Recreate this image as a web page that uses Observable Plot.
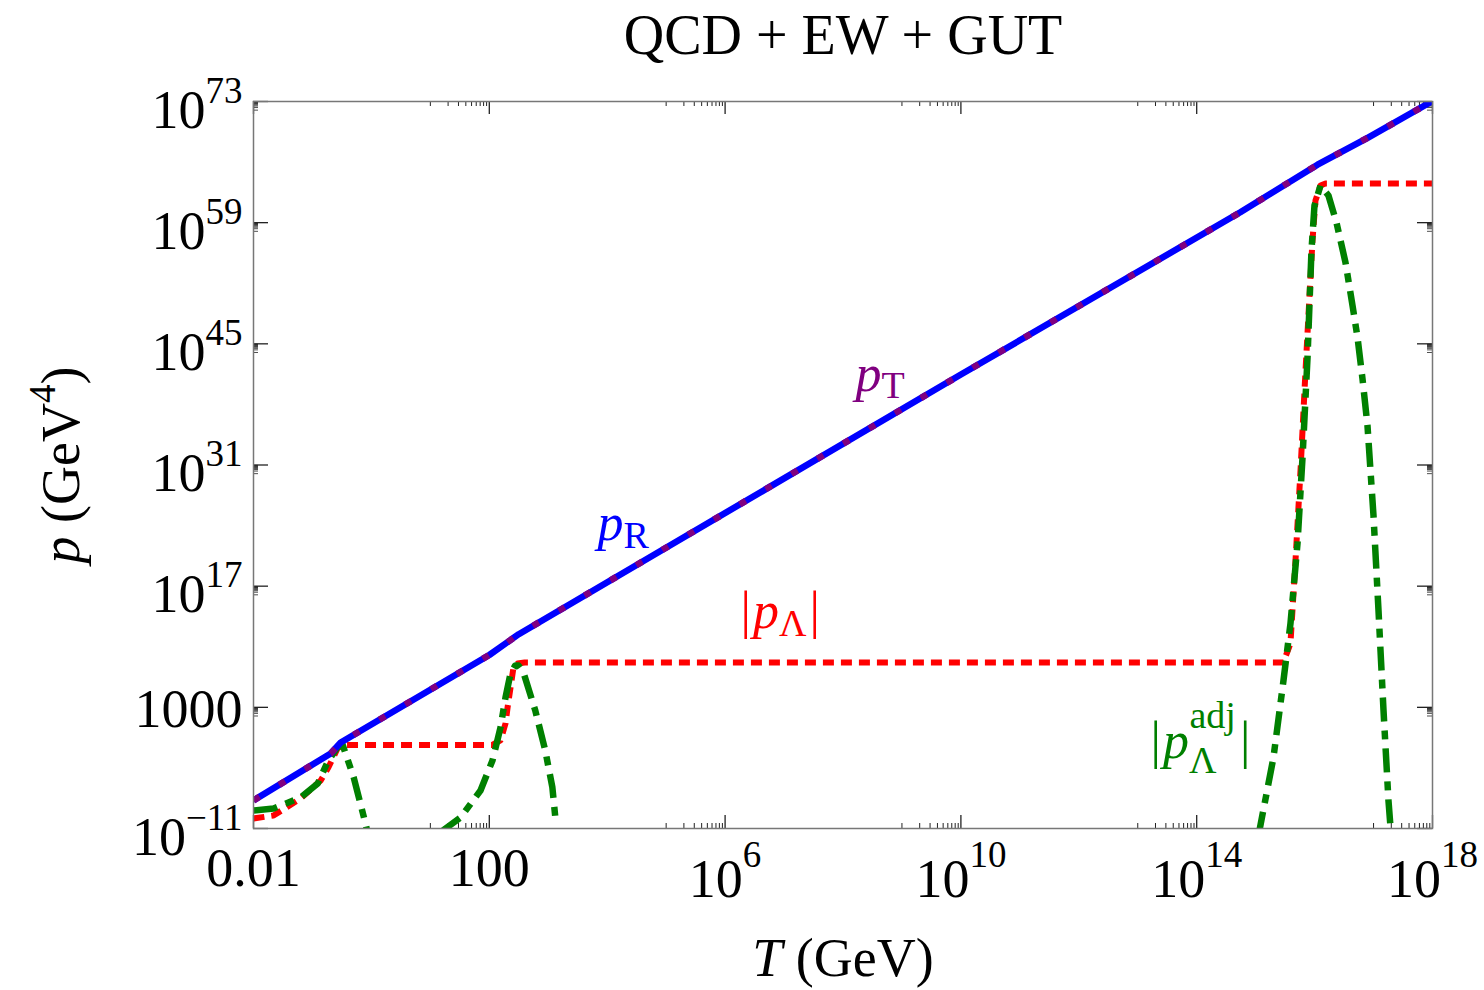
<!DOCTYPE html>
<html><head><meta charset="utf-8">
<script src="https://cdn.jsdelivr.net/npm/d3@7"></script>
<script src="https://cdn.jsdelivr.net/npm/@observablehq/plot@0.6"></script>
<style>
html,body{margin:0;padding:0;background:#fff;}
#chart{width:1484px;height:990px;}
</style></head><body><div id="chart"></div>
<script>
// ---------- data (log10 values) ----------
const xTickValues = [1e-2, 1e2, 1e6, 1e10, 1e14, 1e18];
const xTickLabels = ["0.01", "100", "10^6", "10^10", "10^14", "10^18"];
const yTickValues = [1e-11, 1e3, 1e17, 1e31, 1e45, 1e59, 1e73];
const yTickLabels = ["10^\u221211", "1000", "10^17", "10^31", "10^45", "10^59", "10^73"];

// p_R (and p_T, which coincides with it)
const pR_logT = [-2, -0.69, -0.52, 2.0, 2.5, 10, 14.74, 16.05, 16.9, 18];
const pR_logp = [-7.76, -2.33, -1.06, 9.05, 11.45, 41.45, 60.2, 65.7, 68.8, 73.05];
const pT_logT = [-2, -0.69, -0.52, 2.0, 2.5, 10, 14.74, 16.05, 16.9, 18];
const pT_logp = [-7.76, -2.33, -1.06, 9.05, 11.45, 41.45, 60.2, 65.7, 68.8, 73.05];

// |p_Lambda|
const pL_logT = [-2, -1.66, -1.2, -0.86, -0.73, -0.575, -0.49, 2.05, 2.19, 2.275, 2.31, 2.36, 2.41, 2.48, 2.6,
                 15.47, 15.59, 15.676, 15.761, 15.846, 15.964, 16.015, 16.1, 16.185, 18];
const pL_logp = [-9.84, -9.5, -7.53, -5.45, -3.95, -1.76, -1.35, -1.35, -0.83, 1.13, 2.98, 5.29, 7.6, 8.06, 8.18,
                 8.18, 10.37, 19.97, 30.36, 41.92, 56.94, 61.56, 63.29, 63.52, 63.52];

// |p_Lambda^adj| : three bumps
const adj1_logT = [-2, -1.66, -1.2, -0.91, -0.73, -0.575, -0.49, -0.30, -0.10, -0.066];
const adj1_logp = [-8.92, -8.69, -7.42, -5.80, -3.14, -1.64, -1.29, -5.11, -10.42, -11.46];
const adj2_logT = [1.172, 1.257, 1.511, 1.851, 2.054, 2.19, 2.275, 2.36, 2.44, 2.495, 2.58, 2.78, 2.95, 3.07, 3.12];
const adj2_logp = [-11.46, -11.0, -9.73, -6.61, -3.14, 0.67, 4.14, 6.91, 7.83, 7.83, 7.02, 2.63, -1.99, -6.26, -9.73];
const adj3_logT = [15.048, 15.302, 15.472, 15.591, 15.71, 15.795, 15.88, 15.947, 15.998, 16.1,
                   16.235, 16.371, 16.524, 16.643, 16.728, 16.812, 16.897, 16.999, 17.084, 17.169, 17.253, 17.287];
const adj3_logp = [-11.81, -2.8, 6.1, 12.69, 21.93, 31.87, 43.42, 55.78, 60.98, 63.29,
                   62.14, 59.02, 54.4, 49.43, 45.73, 40.99, 35.56, 25.16, 14.19, 2.64, -7.76, -10.77];

// ---------- build tables ----------
const toRows = (lt, lp, seg) => lt.map((t, i) => ({T: 10 ** t, p: 10 ** lp[i], seg}));
const pR = toRows(pR_logT, pR_logp, "R");
const pT = toRows(pT_logT, pT_logp, "T");
const pL = toRows(pL_logT, pL_logp, "L");
const adj = [...toRows(adj1_logT, adj1_logp, "a"), ...toRows(adj2_logT, adj2_logp, "b"), ...toRows(adj3_logT, adj3_logp, "c")];

const xDomain = [1e-2, 1e18], yDomain = [1e-11, 1e73];
const xMinor = [], yMinor = [];
xTickValues.forEach(v => { for (let m = 1; m <= 9; m++) { const t = v / 10 * m; if (t >= xDomain[0] && t < v) xMinor.push(t); } });
yTickValues.forEach(v => { for (let m = 1; m <= 9; m++) { const t = v / 10 * m; if (t >= yDomain[0] && t < v) yMinor.push(t); } });

const W = 1484, H = 990, mL = 253, mR = 52, mT = 101, mB = 162;
const fw = W - mL - mR, fh = H - mT - mB;
const FONT = "'Liberation Serif', 'Times New Roman', serif";
const tickCol = "#222";

const chart = Plot.plot({
  width: W, height: H,
  marginLeft: mL, marginRight: mR, marginTop: mT, marginBottom: mB,
  x: {type: "log", domain: xDomain, axis: null},
  y: {type: "log", domain: yDomain, axis: null},
  style: {fontFamily: FONT, background: "white", color: "black"},
  marks: [
    // ticks (inward, mirrored)
    Plot.ruleX(xTickValues, {x: d => d, insetTop: fh - 13, stroke: tickCol, strokeWidth: 1.3}),
    Plot.ruleX(xTickValues, {x: d => d, insetBottom: fh - 13, stroke: tickCol, strokeWidth: 1.3}),
    Plot.ruleX(xMinor, {x: d => d, insetTop: fh - 5, stroke: tickCol, strokeWidth: 1}),
    Plot.ruleX(xMinor, {x: d => d, insetBottom: fh - 5, stroke: tickCol, strokeWidth: 1}),
    Plot.ruleY(yTickValues, {y: d => d, insetRight: fw - 15, stroke: tickCol, strokeWidth: 1.3}),
    Plot.ruleY(yTickValues, {y: d => d, insetLeft: fw - 15, stroke: tickCol, strokeWidth: 1.3}),
    Plot.ruleY(yMinor, {y: d => d, insetRight: fw - 5, stroke: tickCol, strokeWidth: 0.8}),
    Plot.ruleY(yMinor, {y: d => d, insetLeft: fw - 5, stroke: tickCol, strokeWidth: 0.8}),
    // curves
    Plot.line(pL, {x: "T", y: "p", stroke: "#ff0000", strokeWidth: 6, strokeDasharray: "11,7", strokeLinecap: "butt", strokeLinejoin: "round", clip: true}),
    Plot.line(adj, {x: "T", y: "p", z: "seg", stroke: "#008000", strokeWidth: 6.5, strokeDasharray: "24,9,9,9", strokeLinecap: "butt", strokeLinejoin: "round", clip: true}),
    Plot.line(pR, {x: "T", y: "p", stroke: "#0000ff", strokeWidth: 6.5, strokeLinecap: "butt", clip: true}),
    Plot.line(pT, {x: "T", y: "p", stroke: "#800080", strokeWidth: 6.5, strokeDasharray: "7,23", strokeLinecap: "butt", clip: true}),
    Plot.frame({stroke: "#777", strokeWidth: 1.5}),
    // tick labels (text groups 0 and 1)
    Plot.text(xTickValues, {x: d => d, frameAnchor: "bottom", dy: 57, lineAnchor: "bottom", textAnchor: "middle", text: (d, i) => xTickLabels[i], fontSize: 54, fill: "black"}),
    Plot.text(yTickValues, {y: d => d, frameAnchor: "left", dx: -11, dy: 20, lineAnchor: "bottom", textAnchor: "end", text: (d, i) => yTickLabels[i], fontSize: 54, fill: "black"}),
    // curve labels (groups 2..5)
    Plot.text([{T: 10 ** 3.835, p: 10 ** 22.28}], {x: "T", y: "p", text: () => "pR", textAnchor: "start", lineAnchor: "bottom", fontSize: 52, fill: "#0000ff"}),
    Plot.text([{T: 10 ** 8.212, p: 10 ** 39.6}], {x: "T", y: "p", text: () => "pT", textAnchor: "start", lineAnchor: "bottom", fontSize: 52, fill: "#800080"}),
    Plot.text([{T: 10 ** 6.261, p: 10 ** 12.22}], {x: "T", y: "p", text: () => "pL", textAnchor: "start", lineAnchor: "bottom", fontSize: 52, fill: "#ff0000"}),
    Plot.text([{T: 10 ** 13.216, p: 10 ** -2.8}], {x: "T", y: "p", text: () => "pLadj", textAnchor: "start", lineAnchor: "bottom", fontSize: 52, fill: "#008000"}),
    // title and axis labels (groups 6..8)
    Plot.text(["QCD + EW + GUT"], {frameAnchor: "top", dy: -48, text: d => d, lineAnchor: "bottom", textAnchor: "middle", fontSize: 56, fill: "black"}),
    Plot.text(["T (GeV)"], {frameAnchor: "bottom", dy: 147, text: d => d, lineAnchor: "bottom", textAnchor: "middle", fontSize: 54, fill: "black"}),
    Plot.text(["p (GeV4)"], {frameAnchor: "left", dx: -175, rotate: -90, text: d => d, lineAnchor: "bottom", textAnchor: "middle", fontSize: 54, fill: "black"})
  ]
});
document.getElementById("chart").appendChild(chart);

// ---------- rich text (italics, sub/superscripts) ----------
const NS = "http://www.w3.org/2000/svg";
function rich(el, parts) {
  while (el.firstChild) el.removeChild(el.firstChild);
  for (const p of parts) {
    const ts = document.createElementNS(NS, "tspan");
    ts.textContent = p.t;
    if (p.it) ts.setAttribute("font-style", "italic");
    if (p.fs) ts.setAttribute("font-size", p.fs);
    if (p.dx) ts.setAttribute("dx", p.dx);
    if (p.dy) ts.setAttribute("dy", p.dy);
    el.appendChild(ts);
  }
}
const groups = chart.querySelectorAll(':scope > g[aria-label="text"]');
// x tick labels
groups[0].querySelectorAll("text").forEach(el => {
  const m = el.textContent.match(/^10\^(.+)$/);
  if (m) rich(el, [{t: "10", dy: 11}, {t: m[1], fs: 37, dy: -30}]);
});
// y tick labels
groups[1].querySelectorAll("text").forEach(el => {
  const m = el.textContent.match(/^10\^(.+)$/);
  if (m) rich(el, [{t: "10", dy: 6}, {t: m[1], fs: 37, dy: -25}]);
});
rich(groups[2].querySelector("text"), [{t: "p", it: 1}, {t: "R", fs: 38, dy: 8}]);
rich(groups[3].querySelector("text"), [{t: "p", it: 1}, {t: "T", fs: 38, dy: 7}]);
rich(groups[4].querySelector("text"), [{t: "|"}, {t: "p", it: 1, dx: 2}, {t: "\u039B", fs: 38, dy: 8}, {t: "|", dx: 3, dy: -8}]);
rich(groups[5].querySelector("text"), [{t: "|"}, {t: "p", it: 1, dx: 2}, {t: "\u039B", fs: 38, dy: 15}, {t: "adj", fs: 38, dx: -27, dy: -45}, {t: "|", dx: 4, dy: 30}]);
rich(groups[7].querySelector("text"), [{t: "T", it: 1}, {t: " (GeV)"}]);
rich(groups[8].querySelector("text"), [{t: "p", it: 1}, {t: " (GeV"}, {t: "4", fs: 37, dy: -24}, {t: ")", dy: 24}]);
</script>
</body></html>
